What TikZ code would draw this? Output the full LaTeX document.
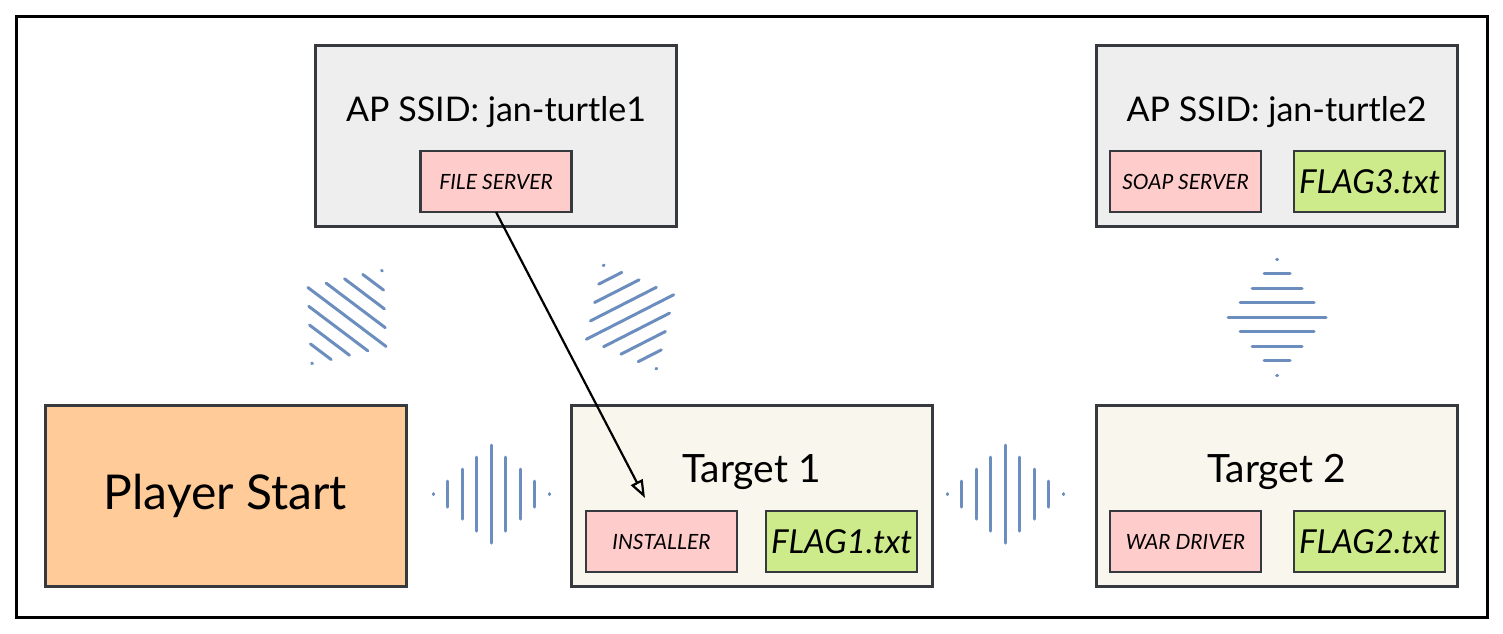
\documentclass[tikz,border=0pt]{standalone}
\usepackage{fontspec}
\setmainfont{Lato}
\usepackage{xcolor}
\usetikzlibrary{positioning, arrows.meta}

\definecolor{edgegray}{HTML}{36393D}
\definecolor{apfill}{HTML}{EEEEEE}
\definecolor{tgtfill}{HTML}{F9F7ED}
\definecolor{startfill}{HTML}{FFCC99}
\definecolor{toolfill}{HTML}{FFCCCC}
\definecolor{flagfill}{HTML}{CDEB8B}
\definecolor{wavecol}{HTML}{6C8EBF}

\begin{document}
\begin{tikzpicture}[x=1pt,y=-1pt,>={Triangle[open,length=18pt,width=13pt]}]
\tikzset{box/.style={draw=edgegray,line width=3pt,outer sep=0pt,minimum width=361pt,minimum height=181pt},
  title/.style={anchor=base,font=\fontsize{34}{40}\selectfont},
  tool/.style={draw=edgegray,fill=toolfill,line width=2.5pt,outer sep=0pt,minimum width=151pt,minimum height=61pt,font=\fontsize{21}{24}\selectfont\itshape},
  flag/.style={tool,fill=flagfill,font=\fontsize{33}{36}\selectfont\itshape},
  wave/.style={draw=wavecol,line width=3pt,line cap=round}}
\useasboundingbox (0,0) rectangle (1503,633);
\draw[line width=3pt] (16,16) rectangle (1487,617);

\node[box,fill=startfill,font=\fontsize{48}{54}\selectfont] (start) at (225.5,495.5) {Player Start};
\node[box,fill=tgtfill,right=165pt of start] (tgt1) {};
\node[box,fill=tgtfill,right=164pt of tgt1] (tgt2) {};
\node[box,fill=apfill,above=179pt of tgt1,xshift=-255.5pt] (ap1) {};
\node[box,fill=apfill,above=179pt of tgt2] (ap2) {};

\node[title] (ap1t) at ([yshift=-76pt]ap1.north) {AP SSID: jan-turtle1};
\node[title] (ap2t) at ([yshift=-76pt]ap2.north) {AP SSID: jan-turtle2};
\node[title,font=\fontsize{39}{44}\selectfont] (tgt1t) at ([yshift=-77pt]tgt1.north) {Target 1};
\node[title,font=\fontsize{39}{44}\selectfont] (tgt2t) at ([yshift=-77pt]tgt2.north) {Target 2};

\node[tool,above=14pt of ap1.south] (fsrv) {FILE SERVER};
\node[tool,above right=14pt and 14pt of ap2.south west] (soap) {SOAP SERVER};
\node[flag,above left=14pt and 12pt of ap2.south east] (flag3) {FLAG3.txt};
\node[tool,above right=14pt and 15pt of tgt1.south west] (inst) {INSTALLER};
\node[flag,above left=14pt and 15pt of tgt1.south east] (flag1) {FLAG1.txt};
\node[tool,above right=14pt and 14pt of tgt2.south west] (wdrv) {WAR DRIVER};
\node[flag,above left=14pt and 12pt of tgt2.south east] (flag2) {FLAG2.txt};

\coordinate (drop) at (645,498);
\draw[->,line width=2.2pt] (fsrv.south) -- (drop);

\foreach \cx/\cy/\ang in {491/494/90,1005/494/90,1277/317/0,347/317/-37,630/317/27}{
  \foreach \i/\len in {-4/1,-3/26,-2/50,-1/74,0/98,1/74,2/50,3/26,4/1}
    \draw[wave,shift={(\cx,\cy)},rotate=\ang] (-\len/2,\i*14.5) -- (\len/2,\i*14.5);
}
\end{tikzpicture}
\end{document}
